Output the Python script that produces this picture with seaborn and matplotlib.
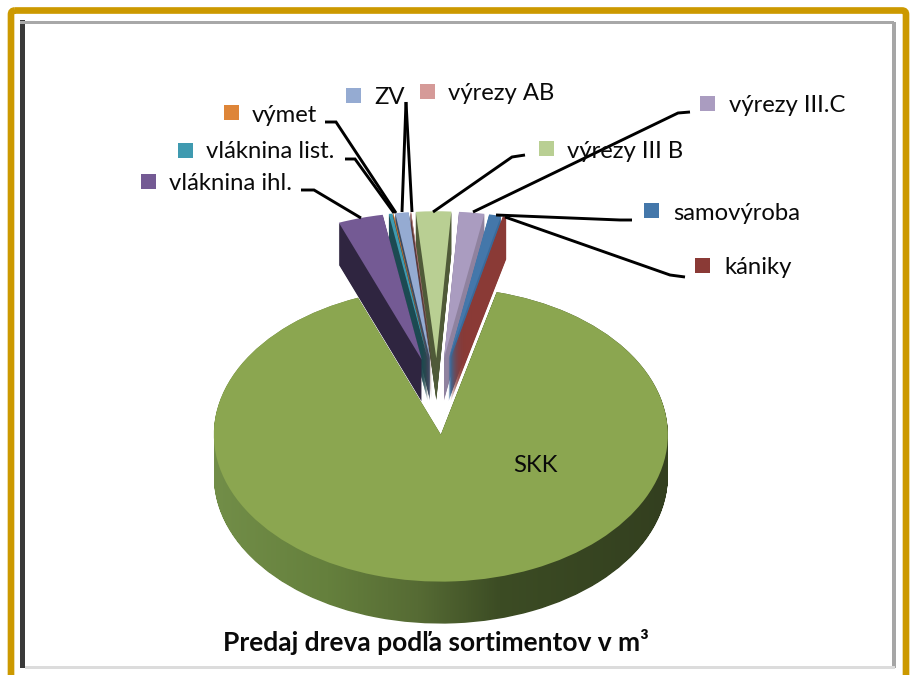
import numpy as np
import matplotlib
matplotlib.use('Agg')
import matplotlib.pyplot as plt
import seaborn as sns
from matplotlib.colors import LinearSegmentedColormap
from matplotlib.patches import FancyBboxPatch, PathPatch, Rectangle
from matplotlib.path import Path

# Sortiments clockwise from the left edge of the gap, SKK closes the circle
sortiments = ['vláknina ihl.', 'vláknina list.', 'výmet', 'ZV', 'výrezy AB',
              'výrezy III B', 'výrezy III.C', 'samovýroba', 'kániky', 'SKK']
values = [3.2, 0.25, 0.05, 0.95, 0.05, 2.5, 1.8, 0.85, 0.25, 90.1]

top_colors = ['#745a94', '#3f9ab0', '#de8538', '#95abd2', '#d59a98',
              '#b9cf93', '#aa9cc0', '#4477aa', '#8a3a36', '#8ba650']
wall_colors = ['#2f2540', '#1c4a52', '#6b4020', '#3c4a60', '#5c3a3a',
               '#4f5a38', '#8f829f', '#3a6a9a', '#8a3a36', '#4f6130']

# Legend keys and text anchors in picture pixels
key_x = [141, 178, 224, 346, 420, 539, 700, 644, 695]
key_y = [174, 143, 105, 88, 84, 141, 96, 203, 258]
text_x = [169, 206, 252, 374, 448, 567, 729, 673, 724]
text_y = [183, 152, 115, 98, 94, 151, 106, 213, 268]

leaders = [
    [(301, 190), (314, 190), (361, 218)],
    [(345, 159), (355, 159), (394, 213)],
    [(325, 122), (336, 122), (396, 213)],
    [(406, 102), (402, 212)],
    [(406, 102), (412, 212)],
    [(525, 155), (512, 157), (433, 212)],
    [(690, 112), (678, 113), (473, 212)],
    [(632, 220), (620, 220), (496, 215)],
    [(685, 277), (670, 275), (505, 217)],
]

CX, CY = 437, 395
RX, RY = 227, 147
DEPTH = 42
explode = [0.25] * 9 + [0.27]

sns.set_theme(style='white')
plt.rcParams['font.family'] = ['Lato', 'DejaVu Sans']

fig = plt.figure(figsize=(9.15, 6.75), dpi=100, facecolor='white')

# Pie axes: data units are pie radii, so the circle comes out as the flat ellipse
ax = fig.add_axes([0, 0, 1, 1], facecolor='none')
rim_paths = []
for k in range(DEPTH, -1, -1):
    wedges, _ = ax.pie(values, explode=explode, center=(0, -k / RY), radius=1,
                       startangle=111.4, counterclock=False, frame=True,
                       colors=top_colors if k == 0 else wall_colors,
                       wedgeprops={'linewidth': 0})
    rim_paths.append(wedges[-1].get_patch_transform().transform_path(wedges[-1].get_path()))
    wedges[-1].set_visible(k == 0)
    wedges[-1].set_zorder(3)

ax.set_aspect('auto')
ax.axis('off')

# Shaded front rim of the big slice
rim_cmap = LinearSegmentedColormap.from_list(
    'rim', [(0, '#728e48'), (0.25, '#65803d'), (0.45, '#566b34'), (0.63, '#3c4c24'), (1, '#333f1f')])
rim = ax.imshow(np.linspace(0, 1, 256).reshape(1, -1), cmap=rim_cmap, aspect='auto', zorder=2,
                extent=[(214 - CX) / RX, (668 - CX) / RX, -2, 1.5])
rim.set_clip_path(PathPatch(Path.make_compound_path(*rim_paths), transform=ax.transData))
ax.set_xlim(-CX / RX, (915 - CX) / RX)
ax.set_ylim((CY - 675) / RY, CY / RY)

# Overlay in picture pixels for the frame, labels and leader lines
ov = fig.add_axes([0, 0, 1, 1], facecolor='none')
ov.set_xlim(0, 915)
ov.set_ylim(675, 0)
ov.axis('off')

ov.add_patch(FancyBboxPatch((11, 10.5), 895, 700, boxstyle='round,pad=0,rounding_size=4',
                            fc='none', ec='#cc9900', lw=4.8))
ov.add_patch(Rectangle((20, 20), 5, 648, fc='#3a3a3a', ec='none'))
ov.add_patch(Rectangle((20, 21), 874, 2.5, fc='#a8a8a8', ec='none'))
ov.add_patch(Rectangle((892, 22), 4, 646, fc='#a6a6a6', ec='none'))
ov.add_patch(Rectangle((25, 666), 870, 2.5, fc='#dcdcdc', ec='none'))

for pts in leaders:
    xs, ys = zip(*pts)
    ov.plot(xs, ys, color='black', lw=2.1, solid_joinstyle='miter', solid_capstyle='butt')

for i, name in enumerate(sortiments[:-1]):
    ov.add_patch(Rectangle((key_x[i], key_y[i]), 15, 15, fc=top_colors[i], ec='none'))
    ov.text(text_x[i], text_y[i], name, fontsize=17.2, color='#0a0a0a', va='center', ha='left')

ov.text(513, 465, sortiments[-1], fontsize=17.2, color='#0a0a0a', va='center', ha='left')
ov.text(436, 642, 'Predaj dreva podľa sortimentov v m³', fontsize=19, fontweight='bold',
        color='#0a0a0a', va='center', ha='center')

fig.savefig('out.png', dpi=100)
